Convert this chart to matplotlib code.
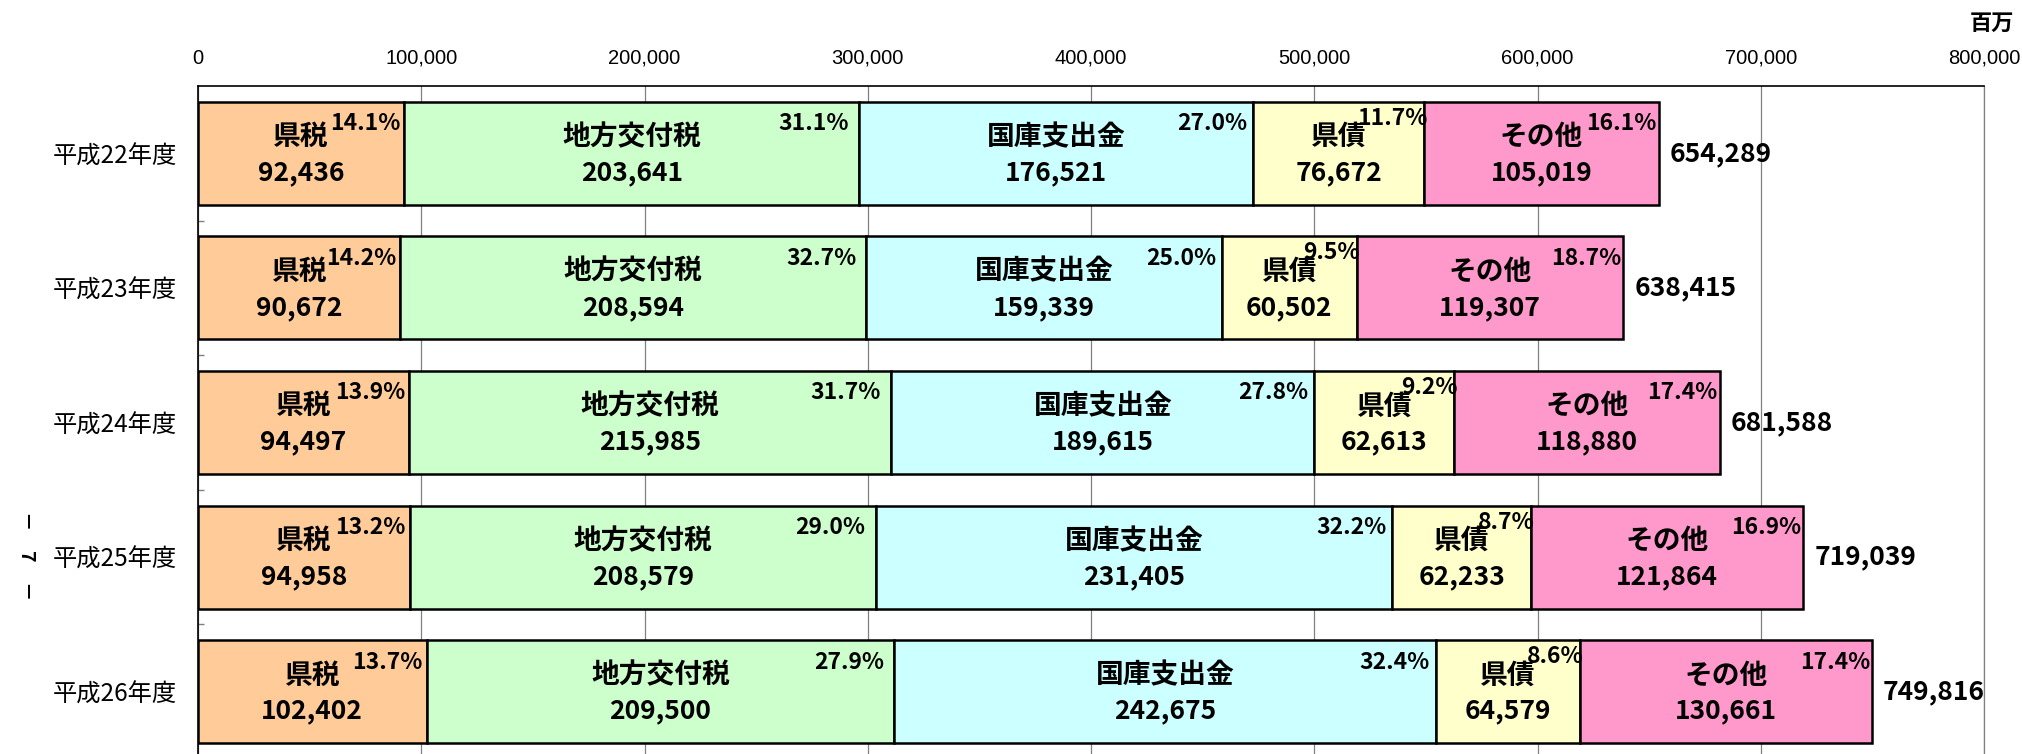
import matplotlib
matplotlib.use("Agg")
import matplotlib.pyplot as plt
from matplotlib.ticker import FixedLocator, FuncFormatter
import numpy as np

plt.rcParams['font.family'] = ['Noto Sans CJK JP', 'DejaVu Sans']

years = ['平成22年度', '平成23年度', '平成24年度', '平成25年度', '平成26年度']
categories = ['県税', '地方交付税', '国庫支出金', '県債', 'その他']
kenzei = [92436, 90672, 94497, 94958, 102402]
chihou_koufuzei = [203641, 208594, 215985, 208579, 209500]
kokko_shishutsukin = [176521, 159339, 189615, 231405, 242675]
kensai = [76672, 60502, 62613, 62233, 64579]
sonota = [105019, 119307, 118880, 121864, 130661]
totals = [654289, 638415, 681588, 719039, 749816]
pct_kenzei = [14.1, 14.2, 13.9, 13.2, 13.7]
pct_chihou = [31.1, 32.7, 31.7, 29.0, 27.9]
pct_kokko = [27.0, 25.0, 27.8, 32.2, 32.4]
pct_kensai = [11.7, 9.5, 9.2, 8.7, 8.6]
pct_sonota = [16.1, 18.7, 17.4, 16.9, 17.4]
x_ticks = [0, 100000, 200000, 300000, 400000, 500000, 600000, 700000, 800000]

series = [kenzei, chihou_koufuzei, kokko_shishutsukin, kensai, sonota]
pcts = [pct_kenzei, pct_chihou, pct_kokko, pct_kensai, pct_sonota]
colors = ['#FFCC99', '#CCFFCC', '#CCFFFF', '#FFFFCC', '#FF99CC']

# label placement tweaks per category (style only)
pct_dx = {'県税': -4, '地方交付税': -10, '国庫支出金': -6, '県債': 3, 'その他': -2}
pct_dy = {'県税': -0.22, '地方交付税': -0.22, '国庫支出金': -0.22, '県債': -0.26, 'その他': -0.22}

W, H = 2022, 754
fig = plt.figure(figsize=(W / 100, H / 100), dpi=100)
ax = fig.add_axes([198 / W, -5 / H, 1786 / W, 673 / H])

ypos = np.arange(len(years))
bar_h = 0.765
left = np.zeros(len(years))
for cat, vals, pc, col in zip(categories, series, pcts, colors):
    vals = np.array(vals, dtype=float)
    ax.barh(ypos, vals, left=left, height=bar_h, color=col,
            edgecolor='black', linewidth=1.8, zorder=3)
    for i in range(len(years)):
        cx = left[i] + vals[i] / 2
        ax.text(cx, ypos[i] - 0.12, cat, ha='center', va='center',
                fontsize=20, fontweight='bold', zorder=5)
        ax.text(cx, ypos[i] + 0.145, f'{int(vals[i]):,}', ha='center', va='center',
                fontsize=19, fontweight='bold', zorder=5)
        ax.annotate(f'{pc[i]:.1f}%', xy=(left[i] + vals[i], ypos[i] + pct_dy[cat]),
                    xytext=(pct_dx[cat] * 0.72, 0), textcoords='offset points',
                    ha='right', va='center', fontsize=16.5, fontweight='bold',
                    zorder=6)
    left = left + vals

for i, t in enumerate(totals):
    ax.annotate(f'{t:,}', xy=(left[i], ypos[i]), xytext=(8, 0),
                textcoords='offset points', ha='left', va='center',
                fontsize=19, fontweight='bold', zorder=5)

ax.set_xlim(0, 800000)
ax.set_ylim(4.5, -0.5)

ax.xaxis.tick_top()
ax.xaxis.set_major_locator(FixedLocator(x_ticks))
ax.xaxis.set_major_formatter(FuncFormatter(lambda v, p: f'{int(v):,}'))
ax.tick_params(axis='x', which='both', length=0, pad=13, labelsize=14.5)
for lab in ax.get_xticklabels():
    lab.set_family(['Liberation Sans', 'DejaVu Sans'])

ax.set_yticks(ypos)
ax.set_yticklabels(years)
ax.set_yticks([0.5, 1.5, 2.5, 3.5], minor=True)
ax.tick_params(axis='y', which='major', length=0, pad=15, labelsize=17.5)
ax.tick_params(axis='y', which='minor', direction='in', length=4.5, width=1, color='#808080')

ax.grid(axis='x', color='#808080', linewidth=0.9, zorder=0)
ax.set_axisbelow(True)
for s in ['left', 'top']:
    ax.spines[s].set_color('black')
    ax.spines[s].set_linewidth(1.2)
ax.spines['right'].set_color('#808080')
ax.spines['right'].set_linewidth(0.9)
ax.spines['bottom'].set_visible(False)

fig.text(2014 / W, 1 - 23 / H, '百万', ha='right', va='center', fontsize=16, fontweight='bold')
fig.text(26 / W, 1 - 556 / H, '－　7　－', rotation=-90, ha='center', va='center',
         fontsize=14, fontweight='bold')

fig.savefig('out.png', dpi=100)
